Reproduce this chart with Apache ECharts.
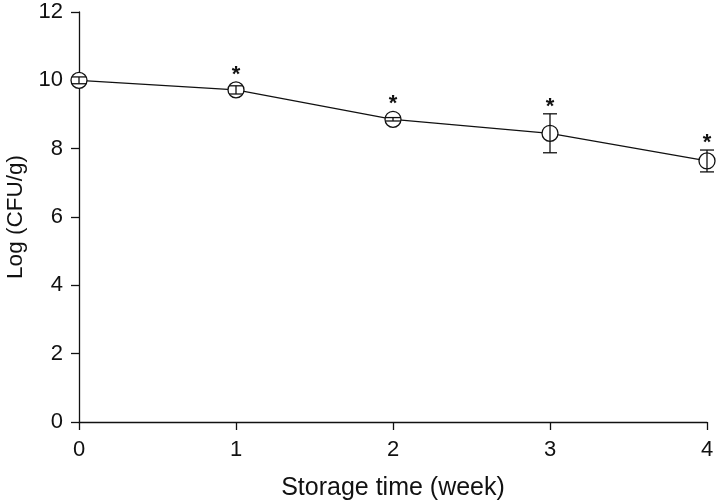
<!DOCTYPE html>
<html><head><meta charset="utf-8">
<script src="https://cdn.jsdelivr.net/npm/echarts@6/dist/echarts.min.js"></script>
<style>html,body{margin:0;padding:0;background:#fff}#c{width:718px;height:502px}</style>
</head><body><div id="c"></div>
<script>
const weeks = [0, 1, 2, 3, 4];
const meanLog = [10.0, 9.72, 8.86, 8.45, 7.64];
const errLog = [0.1, 0.12, 0.05, 0.57, 0.32];
const significant = [false, true, true, true, true];
const yTicks = [0, 2, 4, 6, 8, 10, 12];

const chart = echarts.init(document.getElementById('c'));
const font = 'Liberation Sans, Arial, sans-serif';
const errData = weeks.map((w, i) => [w, meanLog[i], errLog[i], significant[i] ? 1 : 0]);

chart.setOption({
  animation: false,
  grid: {left: 79, right: 11, top: 12, bottom: 80, containLabel: false, outerBoundsMode: 'none'},
  xAxis: {
    type: 'value', min: 0, max: 4, interval: 1,
    name: 'Storage time (week)', nameLocation: 'middle', nameGap: 54,
    nameTextStyle: {fontFamily: font, fontSize: 25, color: '#111'},
    axisLine: {show: true, lineStyle: {color: '#111', width: 1.3}},
    axisTick: {show: true, length: 8, lineStyle: {color: '#111', width: 1.3}},
    axisLabel: {fontFamily: font, fontSize: 22, color: '#111', margin: 17},
    splitLine: {show: false}
  },
  yAxis: {
    type: 'value', min: 0, max: 12, interval: 2,
    name: 'Log (CFU/g)', nameLocation: 'middle', nameGap: 50, nameRotate: 90,
    nameTextStyle: {fontFamily: font, fontSize: 22.5, color: '#111'},
    axisLine: {show: true, lineStyle: {color: '#111', width: 1.3}},
    axisTick: {show: true, length: 8, lineStyle: {color: '#111', width: 1.3}},
    axisLabel: {fontFamily: font, fontSize: 22, color: '#111', margin: 16,
      formatter: v => yTicks.includes(v) ? String(v) : ''},
    splitLine: {show: false}
  },
  series: [
    {
      type: 'line',
      data: weeks.map((w, i) => [w, meanLog[i]]),
      symbol: 'circle', symbolSize: 16,
      lineStyle: {color: '#111', width: 1.3},
      itemStyle: {color: '#fff', borderColor: '#111', borderWidth: 1.3},
      z: 2
    },
    {
      type: 'custom',
      data: errData,
      z: 3,
      renderItem: function (params, api) {
        const x = api.value(0), m = api.value(1), e = api.value(2), s = api.value(3);
        const top = api.coord([x, m + e]);
        const bot = api.coord([x, m - e]);
        const ctr = api.coord([x, m]);
        const hw = 7;
        const style = {stroke: '#111', lineWidth: 1.3};
        const children = [
          {type: 'line', shape: {x1: top[0], y1: top[1], x2: bot[0], y2: bot[1]}, style},
          {type: 'line', shape: {x1: top[0] - hw, y1: top[1], x2: top[0] + hw, y2: top[1]}, style},
          {type: 'line', shape: {x1: bot[0] - hw, y1: bot[1], x2: bot[0] + hw, y2: bot[1]}, style}
        ];
        if (s) {
          const yTop = Math.min(top[1], ctr[1] - 8);
          children.push({type: 'text', style: {text: '*', x: ctr[0], y: yTop + 4,
            fontFamily: font, fontSize: 22, fontWeight: 'bold', fill: '#111',
            align: 'center', verticalAlign: 'bottom'}});
        }
        return {type: 'group', children};
      }
    }
  ]
});
</script></body></html>
